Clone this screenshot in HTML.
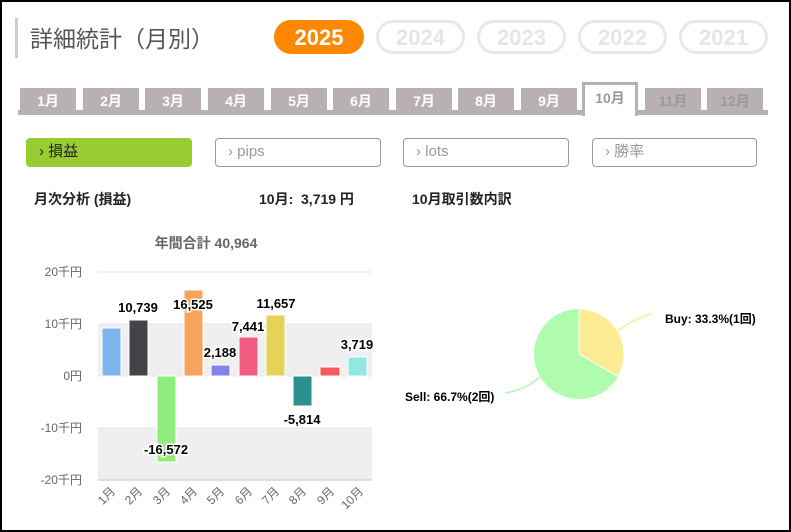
<!DOCTYPE html>
<html><head><meta charset="utf-8"><style>
*{margin:0;padding:0;box-sizing:border-box}
body{width:791px;height:532px;background:#fff;font-family:"Liberation Sans","Noto Sans CJK JP",sans-serif;position:relative;overflow:hidden}
.frame{position:absolute;left:0;top:0;width:791px;height:532px;border:2px solid #000}
.a{position:absolute}
.yr{position:absolute;top:20px;height:34px;border-radius:17px;font-weight:bold;font-size:22px;text-align:center;line-height:29px;border:3px solid #e8e8e8;color:#e6e6e6}
.tab{position:absolute;top:88px;height:24px;width:56px;background:#b9b1b1;color:#fff;font-weight:bold;font-size:14px;text-align:center;line-height:26px}
.btn{position:absolute;top:138px;height:29px;border:1px solid #999;border-radius:4px;font-size:15px;color:#999;padding-left:12px;line-height:26px}
.h{position:absolute;top:189px;font-size:14px;font-weight:bold;color:#222}
</style></head><body>
<div class="frame"></div>
<div class="a" style="left:15px;top:18px;width:3px;height:40px;background:#ccc"></div>
<div class="a" style="left:30px;top:20px;font-size:23px;color:#555">詳細統計（月別）</div>
<div class="yr" style="left:274px;width:90px;background:#f80;border-color:#f80;color:#fff">2025</div>
<div class="yr" style="left:376px;width:89px">2024</div>
<div class="yr" style="left:477px;width:89px">2023</div>
<div class="yr" style="left:578px;width:89px">2022</div>
<div class="yr" style="left:679px;width:89px">2021</div>
<div class="a" style="left:18px;top:110px;width:750px;height:5px;background:#b9b1b1"></div>
<div class="tab" style="left:20px">1月</div>
<div class="tab" style="left:83px">2月</div>
<div class="tab" style="left:145px">3月</div>
<div class="tab" style="left:208px">4月</div>
<div class="tab" style="left:271px">5月</div>
<div class="tab" style="left:333px">6月</div>
<div class="tab" style="left:396px">7月</div>
<div class="tab" style="left:458px">8月</div>
<div class="tab" style="left:521px">9月</div>
<div class="tab" style="left:582px;top:82px;height:34px;background:#fff;border:3px solid #b9b1b1;border-bottom:none;color:#999;line-height:26px">10月</div>
<div class="tab" style="left:645px;color:#999">11月</div>
<div class="tab" style="left:707px;color:#999">12月</div>
<div class="btn" style="left:26px;width:166px;background:#9c3;border-color:#9c3;color:#222">› 損益</div>
<div class="btn" style="left:215px;width:166px">› pips</div>
<div class="btn" style="left:403px;width:166px">› lots</div>
<div class="btn" style="left:592px;width:165px">› 勝率</div>
<div class="h" style="left:34px">月次分析 (損益)</div>
<div class="h" style="left:259px">10月:&nbsp; 3,719 円</div>
<div class="h" style="left:412px">10月取引数内訳</div>
<svg class="a" style="left:0;top:0" width="791" height="532" font-family="Liberation Sans, Noto Sans CJK JP, sans-serif">
<text x="206" y="248" font-size="14" font-weight="bold" fill="#666" text-anchor="middle">年間合計 40,964</text>
<rect x="98" y="324" width="274" height="52" fill="#efefef"/>
<rect x="98" y="428" width="274" height="52" fill="#efefef"/>
<g stroke="#e6e6e6" stroke-width="1"><line x1="98" y1="272" x2="372" y2="272"/><line x1="98" y1="324" x2="372" y2="324"/><line x1="98" y1="376" x2="372" y2="376"/><line x1="98" y1="428" x2="372" y2="428"/></g>
<line x1="98" y1="480" x2="372" y2="480" stroke="#ccd6eb" stroke-width="1.5"/>
<g font-size="12" fill="#666" text-anchor="end"><text x="82" y="276">20千円</text><text x="82" y="328">10千円</text><text x="82" y="380">0円</text><text x="82" y="432">-10千円</text><text x="82" y="484">-20千円</text></g>
<g stroke="#fff" stroke-width="1">
<rect x="102" y="328" width="19" height="48" fill="#7cb5ec"/>
<rect x="129" y="320" width="19" height="56" fill="#434348"/>
<rect x="157" y="376" width="19" height="86" fill="#90ed7d"/>
<rect x="184" y="290" width="19" height="86" fill="#f7a35c"/>
<rect x="211" y="365" width="19" height="11" fill="#8085e9"/>
<rect x="239" y="337" width="19" height="39" fill="#f15c80"/>
<rect x="266" y="315" width="19" height="61" fill="#e4d354"/>
<rect x="293" y="376" width="19" height="30" fill="#2b908f"/>
<rect x="320" y="367" width="20" height="9" fill="#f45b5b"/>
<rect x="348" y="357" width="19" height="19" fill="#91e8e1"/>
</g>
<g font-size="13" font-weight="bold" fill="#000" text-anchor="middle" stroke="#fff" stroke-width="3" paint-order="stroke">
<text x="138" y="312">10,739</text><text x="166" y="454">-16,572</text><text x="193" y="309">16,525</text>
<text x="220" y="357">2,188</text><text x="248" y="331">7,441</text><text x="276" y="308">11,657</text>
<text x="302" y="424">-5,814</text><text x="357" y="349">3,719</text></g>
<g font-size="12" fill="#666" text-anchor="end">
<text transform="translate(116,492) rotate(-45)">1月</text><text transform="translate(143,492) rotate(-45)">2月</text>
<text transform="translate(171,492) rotate(-45)">3月</text><text transform="translate(198,492) rotate(-45)">4月</text>
<text transform="translate(225,492) rotate(-45)">5月</text><text transform="translate(253,492) rotate(-45)">6月</text>
<text transform="translate(280,492) rotate(-45)">7月</text><text transform="translate(307,492) rotate(-45)">8月</text>
<text transform="translate(335,492) rotate(-45)">9月</text><text transform="translate(364,492) rotate(-45)">10月</text></g>
<circle cx="579" cy="354" r="45" fill="#b0fcaf"/>
<path d="M579,354 L579,309 A45,45 0 0,1 618,376.5 Z" fill="#fdec94" stroke="#fff" stroke-width="1"/>
<path d="M618,331 Q635,318 652,314" stroke="#fdec94" fill="none" stroke-width="1.5"/>
<path d="M540,377 Q525,390 505,393" stroke="#b0fcaf" fill="none" stroke-width="1.5"/>
<text x="665" y="323" font-size="12" font-weight="bold" fill="#000">Buy: 33.3%(1回)</text>
<text x="405" y="401" font-size="12" font-weight="bold" fill="#000">Sell: 66.7%(2回)</text>
</svg>
</body></html>
